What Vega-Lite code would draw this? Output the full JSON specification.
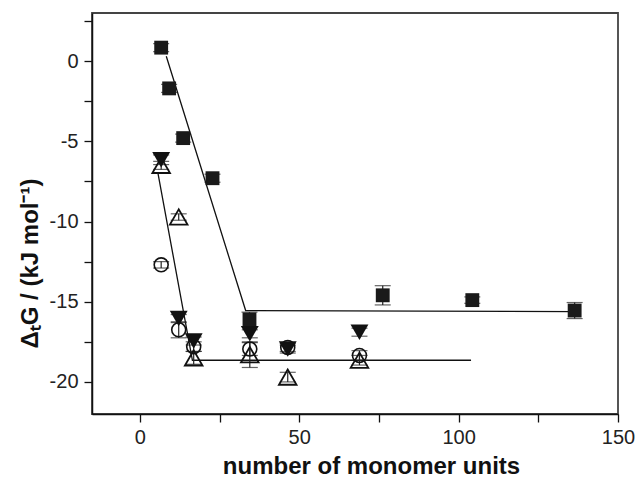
{
  "$schema": "https://vega.github.io/schema/vega-lite/v6.json",
  "width": 526,
  "height": 401,
  "autosize": "none",
  "padding": {"left": 92, "top": 13, "right": 21, "bottom": 63},
  "background": "white",
  "config": {
    "view": {"stroke": "#444", "strokeWidth": 1.8},
    "axis": {
      "grid": false,
      "domainColor": "#111",
      "domainWidth": 1.5,
      "tickColor": "#111",
      "tickWidth": 1.3,
      "tickSize": 8,
      "labelFont": "Liberation Sans",
      "labelFontSize": 20,
      "labelColor": "#222",
      "titleFont": "Liberation Sans",
      "titleFontSize": 24,
      "titleFontWeight": "bold",
      "titleColor": "#111",
      "labelOverlap": false,
      "labelFlush": false
    }
  },
  "datasets": {
    "pts": [
      {"series": "square", "x": 6.7, "y": 0.84, "err": 0.25},
      {"series": "square", "x": 9.2, "y": -1.7, "err": 0.25},
      {"series": "square", "x": 13.6, "y": -4.8, "err": 0.25},
      {"series": "square", "x": 22.8, "y": -7.3, "err": 0.25},
      {"series": "square", "x": 34.4, "y": -16.1, "err": 0.45},
      {"series": "square", "x": 76.2, "y": -14.6, "err": 0.6},
      {"series": "square", "x": 104.3, "y": -14.9, "err": 0.2},
      {"series": "square", "x": 136.4, "y": -15.55, "err": 0.5},
      {"series": "down", "x": 6.7, "y": -6.15, "err": 0.3},
      {"series": "down", "x": 12.2, "y": -16.05, "err": 0.25},
      {"series": "down", "x": 16.9, "y": -17.45, "err": 0.25},
      {"series": "down", "x": 34.5, "y": -17.0, "err": 0.25},
      {"series": "down", "x": 46.4, "y": -17.95, "err": 0.25},
      {"series": "down", "x": 68.9, "y": -16.9, "err": 0.25},
      {"series": "circle", "x": 6.7, "y": -12.7, "err": 0.2},
      {"series": "circle", "x": 12.2, "y": -16.75, "err": 0.5},
      {"series": "circle", "x": 16.9, "y": -17.8, "err": 0.3},
      {"series": "circle", "x": 34.5, "y": -17.95, "err": 0.4},
      {"series": "circle", "x": 46.4, "y": -17.85, "err": 0.25},
      {"series": "circle", "x": 68.9, "y": -18.35, "err": 0.3},
      {"series": "up", "x": 6.7, "y": -6.5, "err": 0.25},
      {"series": "up", "x": 12.2, "y": -9.72, "err": 0.2},
      {"series": "up", "x": 16.9, "y": -18.5, "err": 0.4},
      {"series": "up", "x": 34.5, "y": -18.3, "err": 0.8},
      {"series": "up", "x": 46.4, "y": -19.7, "err": 0.3},
      {"series": "up", "x": 68.9, "y": -18.65, "err": 0.3}
    ],
    "fits": [
      {"line": "A", "ord": 1, "x": 8.3, "y": 0.3},
      {"line": "A", "ord": 2, "x": 33.2, "y": -15.55},
      {"line": "A", "ord": 3, "x": 136.7, "y": -15.62},
      {"line": "B", "ord": 1, "x": 5.7, "y": -7.0},
      {"line": "B", "ord": 2, "x": 16.5, "y": -18.65},
      {"line": "B", "ord": 3, "x": 103.9, "y": -18.65}
    ]
  },
  "encoding": {
    "x": {
      "field": "x", "type": "quantitative",
      "scale": {"domain": [-15, 150], "nice": false, "zero": false},
      "axis": {
        "title": "number of monomer units",
        "values": [0, 25, 50, 75, 100, 125, 150],
        "labelExpr": "datum.value % 50 === 0 ? toString(datum.value) : ''",
        "labelPadding": 5,
        "titleX": 279,
        "titleY": 59,
        "titleBaseline": "alphabetic"
      }
    },
    "y": {
      "field": "y", "type": "quantitative",
      "scale": {"domain": [-22, 3], "nice": false, "zero": false},
      "axis": {
        "title": "ΔₜG / (kJ mol⁻¹)",
        "values": [-20, -17.5, -15, -12.5, -10, -7.5, -5, -2.5, 0, 2.5],
        "labelExpr": "datum.value % 5 === 0 ? toString(datum.value) : ''",
        "labelPadding": 6,
        "titleX": -55,
        "titleY": 250,
        "titleBaseline": "alphabetic"
      }
    }
  },
  "layer": [
    {
      "data": {"name": "fits"},
      "mark": {"type": "line", "color": "#111", "strokeWidth": 1.3},
      "encoding": {"detail": {"field": "line"}, "order": {"field": "ord"}}
    },
    {
      "data": {"name": "pts"},
      "mark": {"type": "errorbar", "ticks": {"size": 16, "color": "#222", "thickness": 1.2}, "rule": {"color": "#222", "strokeWidth": 1.2}},
      "encoding": {"yError": {"field": "err"}}
    },
    {
      "data": {"name": "pts"},
      "transform": [{"filter": "datum.series === 'square'"}],
      "mark": {"type": "point", "shape": "square", "filled": true, "size": 192, "color": "#1a1a1a", "opacity": 1}
    },
    {
      "data": {"name": "pts"},
      "transform": [{"filter": "datum.series === 'circle'"}],
      "mark": {"type": "point", "shape": "circle", "filled": false, "size": 195, "color": "#111", "strokeWidth": 1.6, "opacity": 1}
    },
    {
      "data": {"name": "pts"},
      "transform": [{"filter": "datum.series === 'up'"}],
      "mark": {"type": "point", "shape": "triangle-up", "filled": false, "size": 310, "color": "#111", "strokeWidth": 1.8, "opacity": 1}
    },
    {
      "data": {"name": "pts"},
      "transform": [{"filter": "datum.series === 'down'"}],
      "mark": {"type": "point", "shape": "triangle-down", "filled": true, "size": 320, "color": "#111", "opacity": 1}
    }
  ]
}
